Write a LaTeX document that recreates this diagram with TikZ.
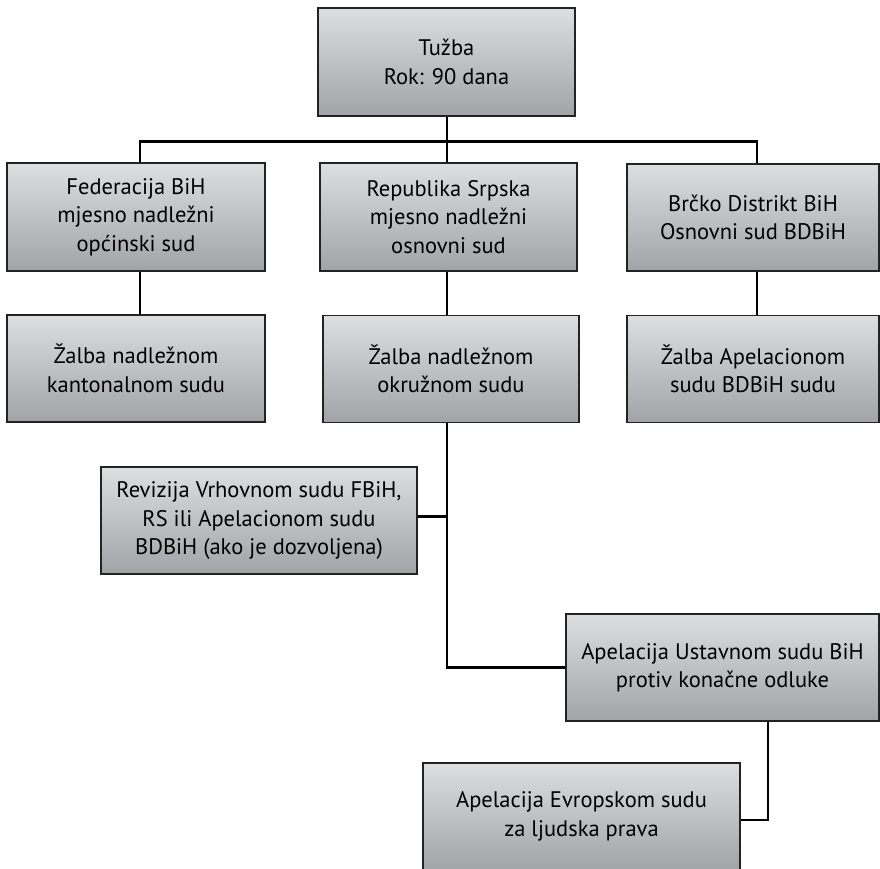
\documentclass[tikz,border=0pt]{standalone}
\usepackage{fontspec}
\setmainfont{PT Sans}
\definecolor{boxtop}{RGB}{221,222,224}
\definecolor{boxbot}{RGB}{162,163,166}
\definecolor{boxline}{RGB}{35,35,35}
\newcommand{\boxfont}{\fontsize{22.5}{28.5}\selectfont}
\tikzset{
  box/.style={draw=boxline, line width=1.2pt, top color=boxtop, bottom color=boxbot,
    minimum height=107pt, inner sep=0pt, align=center, font=\boxfont},
  conn/.style={draw=black, line width=2.6pt, line join=miter}
}
\begin{document}
\begin{tikzpicture}[x=1pt,y=-1pt]
\useasboundingbox (0,0) rectangle (880,868);
\node[box, minimum width=257pt, minimum height=108pt] (tuzba) at (446.5,62) {Tužba\\Rok: 90 dana};
\node[box, minimum width=258pt, minimum height=108pt] (fed) at (136,217) {Federacija BiH\\mjesno nadležni\\općinski sud};
\node[box, minimum width=257pt, minimum height=108pt] (rs) at (448.5,217) {Republika Srpska\\mjesno nadležni\\osnovni sud};
\node[box, minimum width=252pt] (brcko) at (753,217.5) {Brčko Distrikt BiH\\Osnovni sud BDBiH};
\node[box, minimum width=258pt] (zal1) at (136,368.5) {Žalba nadležnom\\kantonalnom sudu};
\node[box, minimum width=256pt] (zal2) at (451,369) {Žalba nadležnom\\okružnom sudu};
\node[box, minimum width=252pt] (zal3) at (753,369) {Žalba Apelacionom\\sudu BDBiH sudu};
\node[box, minimum width=316pt] (rev) at (259,520.5) {Revizija Vrhovnom sudu FBiH,\\RS ili Apelacionom sudu\\BDBiH (ako je dozvoljena)};
\node[box, minimum width=313pt] (ust) at (722.5,667.5) {Apelacija Ustavnom sudu BiH\\protiv konačne odluke};
\node[box, minimum width=317pt] (evr) at (581.5,816.5) {Apelacija Evropskom sudu\\za ljudska prava};
\coordinate (busL) at (140,141.5);
\coordinate (busR) at (757,141.5);
\coordinate (spine) at (447,0);
\coordinate (ustx) at (768,0);
\coordinate (revE) at ([yshift=4pt]rev.east);
\coordinate (evrE) at ([yshift=-3.5pt]evr.east);
\draw[conn] (tuzba.south -| spine) -- (spine |- rs.north);
\draw[conn] (busL |- fed.north) -- (busL) -- (busR) -- (busR |- brcko.north);
\draw[conn] (fed.south -| busL) -- (zal1.north -| busL);
\draw[conn] (brcko.south -| busR) -- (zal3.north -| busR);
\draw[conn] (rs.south -| spine) -- (zal2.north -| spine);
\draw[conn] (zal2.south -| spine) -- (spine |- ust.west) -- (ust.west);
\draw[conn] (revE) -- (revE -| spine);
\draw[conn] (ust.south -| ustx) -- (ustx |- evrE) -- (evrE);
\end{tikzpicture}
\end{document}
